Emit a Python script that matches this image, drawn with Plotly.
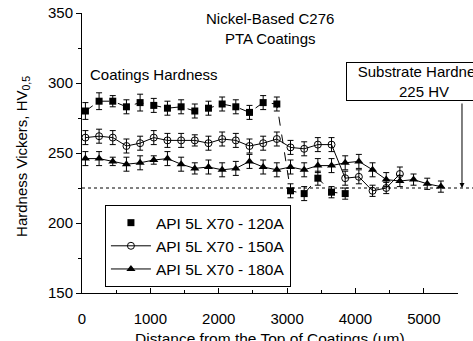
import plotly.graph_objects as go

# ---- data ----
x_120 = [50, 250, 450, 650, 850, 1050, 1250, 1450, 1650, 1850, 2050, 2250, 2450, 2650, 2850,
         3050, 3250, 3450, 3650, 3850]
y_120 = [280, 287, 287, 283, 286, 284, 282, 283, 280, 282, 285, 283, 279, 286, 285,
         223, 221, 232, 222, 221]
e_120 = [6, 6, 4, 5, 6, 5, 5, 5, 5, 5, 5, 5, 5, 5, 5, 5, 5, 5, 4, 4]

x_150 = [50, 250, 450, 650, 850, 1050, 1250, 1450, 1650, 1850, 2050, 2250, 2450, 2650, 2850,
         3050, 3250, 3450, 3650, 3850, 4050, 4250, 4450, 4650]
y_150 = [261, 262, 261, 255, 257, 261, 259, 259, 259, 257, 260, 259, 255, 257, 260,
         254, 253, 256, 256, 232, 233, 223, 225, 235]
e_150 = [5, 5, 5, 5, 5, 5, 5, 5, 4, 5, 5, 5, 5, 5, 5, 5, 5, 5, 5, 5, 5, 4, 4, 5]

x_180 = [50, 250, 450, 650, 850, 1050, 1250, 1450, 1650, 1850, 2050, 2250, 2450, 2650, 2850,
         3050, 3250, 3450, 3650, 3850, 4050, 4250, 4450, 4650, 4850, 5050, 5250]
y_180 = [246, 246, 244, 242, 243, 245, 246, 242, 239, 240, 238, 239, 244, 240, 238,
         240, 238, 241, 241, 243, 244, 238, 231, 230, 231, 228, 226]
e_180 = [5, 5, 3, 5, 5, 3, 5, 5, 4, 5, 5, 5, 5, 5, 5, 5, 5, 5, 5, 5, 5, 5, 5, 4, 4, 4, 4]

names = ["API 5L X70 - 120A", "API 5L X70 - 150A", "API 5L X70 - 180A"]
substrate_hv = 225

FONT = "Arial, Liberation Sans, sans-serif"

fig = go.Figure()

def err(e):
    return dict(type="data", array=e, visible=True, color="black", thickness=1, width=3)

# 120A: dashed connecting line (no legend) + markers with error bars (legend)
fig.add_trace(go.Scatter(
    x=x_120, y=y_120, mode="lines", showlegend=False, hoverinfo="skip",
    line=dict(color="black", width=1, dash="dash")))
fig.add_trace(go.Scatter(
    x=x_120, y=y_120, error_y=err(e_120), name=names[0], mode="markers",
    marker=dict(symbol="square", size=7, color="black")))
fig.add_trace(go.Scatter(
    x=x_150, y=y_150, error_y=err(e_150), name=names[1], mode="lines+markers",
    line=dict(color="black", width=1),
    marker=dict(symbol="circle-open", size=7, color="black", line=dict(width=1))))
fig.add_trace(go.Scatter(
    x=x_180, y=y_180, error_y=err(e_180), name=names[2], mode="lines+markers",
    line=dict(color="black", width=1),
    marker=dict(symbol="triangle-up", size=8, color="black")))

# substrate dotted line extending past the axis
fig.add_shape(type="line", xref="paper", yref="y", x0=0, x1=1.05,
              y0=substrate_hv, y1=substrate_hv,
              line=dict(color="black", width=1, dash="dot"))

# substrate label box
fig.add_annotation(xref="paper", yref="paper", x=0.9096, y=0.755,
                   xanchor="center", yanchor="middle",
                   width=154, height=37,
                   text="Substrate Hardness<br>225 HV", showarrow=False,
                   font=dict(family=FONT, size=15, color="black"),
                   bordercolor="black", borderwidth=1, borderpad=0, bgcolor="white",
                   align="center", valign="middle")
# arrow
fig.add_annotation(xref="paper", yref="y", x=1.0106, y=substrate_hv, text="",
                   showarrow=True, ax=0, ay=-86, arrowhead=2, arrowsize=1,
                   arrowwidth=1, arrowcolor="black")

fig.add_annotation(xref="paper", yref="paper", x=0.5, y=1.018, yanchor="top",
                   text="Nickel-Based C276<br>PTA Coatings", showarrow=False,
                   font=dict(family=FONT, size=15, color="black"))
fig.add_annotation(xref="paper", yref="paper", x=0.016, y=0.779,
                   xanchor="left", yanchor="middle",
                   text="Coatings Hardness", showarrow=False,
                   font=dict(family=FONT, size=15, color="black"))
fig.add_annotation(xref="paper", yref="paper", x=0.5, y=-0.164,
                   xanchor="center", yanchor="middle",
                   text="Distance from the Top of Coatings (\u03bcm)", showarrow=False,
                   font=dict(family=FONT, size=15.5, color="black"))
# y-axis title
fig.add_annotation(xref="paper", yref="paper", x=-0.160, y=0.489,
                   xanchor="center", yanchor="middle", textangle=-90,
                   text="Hardness Vickers, HV<sub>0,5</sub>", showarrow=False,
                   font=dict(family=FONT, size=15, color="black"))

fig.update_layout(
    width=473, height=341,
    margin=dict(l=82, r=15, t=13, b=48, autoexpand=False),
    plot_bgcolor="white", paper_bgcolor="white",
    font=dict(family=FONT, size=15, color="black"),
    showlegend=True,
    legend=dict(x=0.061, y=0.314, xanchor="left", yanchor="top",
                bordercolor="black", borderwidth=1, bgcolor="white",
                font=dict(size=15.5), itemwidth=40, tracegroupgap=0),
)
fig.update_xaxes(range=[0, 5500], showline=True, linecolor="black", linewidth=1,
                 ticks="inside", ticklen=5, tickcolor="black", dtick=1000, tick0=0,
                 ticklabelstandoff=12, automargin=False,
                 minor=dict(dtick=500, ticks="inside", ticklen=3, tickcolor="black"),
                 showgrid=False, zeroline=False)
fig.update_yaxes(range=[150, 350], showline=True, linecolor="black", linewidth=1,
                 ticks="outside", ticklen=5, tickcolor="black", dtick=50, tick0=150,
                 automargin=False,
                 minor=dict(dtick=25, ticks="outside", ticklen=3, tickcolor="black"),
                 showgrid=False, zeroline=False)

fig.write_html("out.html", config={"displayModeBar": False},
               post_script="document.body.style.margin='0';document.body.style.overflow='hidden';")
